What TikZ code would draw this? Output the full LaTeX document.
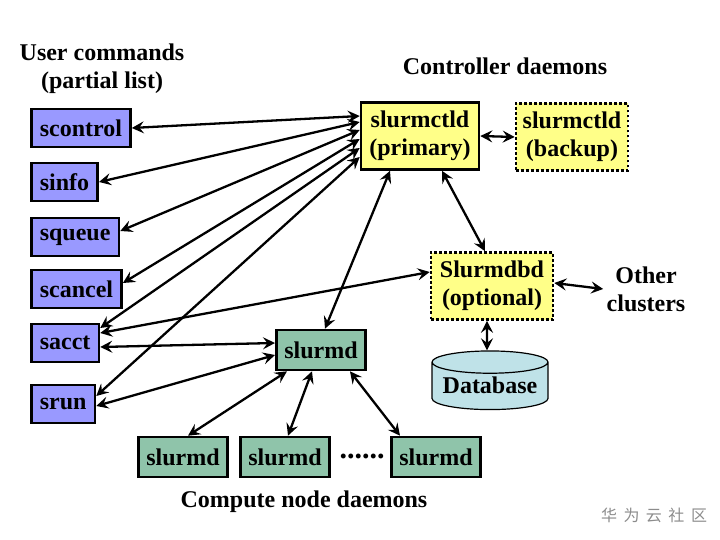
\documentclass[tikz,border=0pt]{standalone}
\usepackage{fontspec}
\setmainfont{Liberation Serif}
\newfontfamily\cjk{Noto Sans CJK SC}
\usetikzlibrary{arrows.meta,shapes.geometric}
\definecolor{cmdblue}{HTML}{9999FF}
\definecolor{ctldyellow}{HTML}{FFFF88}
\definecolor{dgreen}{HTML}{8FC4AA}
\definecolor{dbcyan}{HTML}{BFE2E8}
\tikzset{
    every node/.style={font=\bfseries\fontsize{24}{28}\selectfont, align=center}
}
\tikzset{
    cmd/.style={draw, fill=cmdblue, line width=2.6pt, anchor=west,
    	minimum height=38pt, inner xsep=8.5pt, inner ysep=0pt},
    ctld/.style={draw, fill=ctldyellow, line width=2.6pt,
    	minimum height=67pt, inner xsep=6pt, inner ysep=0pt},
    spare/.style={ctld, dash pattern=on 2.6pt off 2.4pt},
    dmon/.style={draw, fill=dgreen, line width=2.6pt,
    	minimum height=40pt, inner xsep=8pt, inner ysep=0pt},
    every edge/.append style={line width=2.3pt,
    	arrows={Stealth[length=12pt,width=12pt,inset=4.5pt]-Stealth[length=12pt,width=12pt,inset=4.5pt]}}
}

\begin{document}
\begin{tikzpicture}[x=1pt, y=-1pt]
  \useasboundingbox (0,0) rectangle (720,540);

  % user commands
  \node (users) at (102,69) {User commands\\(partial list)};
  \node (scontrol) [cmd] at (30,128) {scontrol};
  \node (sinfo) [cmd] at (30,182) {sinfo};
  \node (squeue) [cmd] at (30,237) {squeue};
  \node (scancel) [cmd] at (30,289) {scancel};
  \node (sacct) [cmd] at (30,343) {sacct};
  \node (srun) [cmd] at (30,404) {srun};

  % controller daemons
  \node (ctrl) at (505,66) {Controller daemons};
  \node (ctld) [ctld, minimum width=118pt] at (420,136) {slurmctld\\(primary)};
  \node (backup) [spare, minimum width=112pt] at (572,137) {slurmctld\\(backup)};
  \node (dbd) [spare, minimum width=122pt] at (492,286) {Slurmdbd\\(optional)};
  \node (other) at (646,289) {Other\\clusters};
  \node (db) [cylinder, shape border rotate=90, aspect=0.22, draw, fill=dbcyan,
    line width=1.2pt, minimum width=116pt, minimum height=50pt] at (490,388)
    {\raisebox{5pt}{Database}};

  % compute node daemons
  \node (md) [dmon] at (321,350) {slurmd};
  \node (md1) [dmon] at (183,457) {slurmd};
  \node (md2) [dmon] at (285,457) {slurmd};
  \node (md3) [dmon] at (436,457) {slurmd};
  \node (dots) [font=\bfseries\fontsize{30}{30}\selectfont] at (362,456) {......};
  \node (compute) at (304,502) {Compute node daemons};

  \node (mark) [font=\cjk\fontsize{16}{18}\selectfont, text=black!45] at (654,515)
    {华\hspace{6.5pt}为\hspace{6.5pt}云\hspace{6.5pt}社\hspace{6.5pt}区};

  \draw (scontrol.east) edge ([yshift=20pt]ctld.west);
  \draw (sinfo.east) edge ([yshift=14pt]ctld.west);
  \draw ([yshift=6pt]squeue.east) edge ([yshift=6pt]ctld.west);
  \draw ([yshift=6pt]scancel.east) edge ([yshift=-3pt]ctld.west);
  \draw ([yshift=15pt]sacct.east) edge ([yshift=-12pt]ctld.west);
  \draw ([yshift=10pt]sacct.east) edge ([yshift=14pt]dbd.west);
  \draw ([yshift=-4pt]sacct.east) edge ([yshift=7pt]md.west);
  \draw ([yshift=8pt]srun.east) edge ([yshift=-21pt]ctld.west);
  \draw ([yshift=-2pt]srun.east) edge ([yshift=-5pt]md.west);
  \draw ([xshift=-30pt]ctld.south) edge ([xshift=4pt]md.north);
  \draw ([xshift=22pt]ctld.south) edge ([xshift=-7pt]dbd.north);
  \draw (ctld.east) edge (backup.west);
  \draw ([yshift=3pt]dbd.east) edge (other.west);
  \draw ([xshift=-5pt]dbd.south) edge ([xshift=-3pt]db.north);
  \draw ([xshift=-34pt]md.south) edge ([xshift=5pt]md1.north);
  \draw ([xshift=-9pt]md.south) edge ([xshift=3pt]md2.north);
  \draw ([xshift=29pt]md.south) edge ([xshift=-36pt]md3.north);
\end{tikzpicture}
\end{document}
